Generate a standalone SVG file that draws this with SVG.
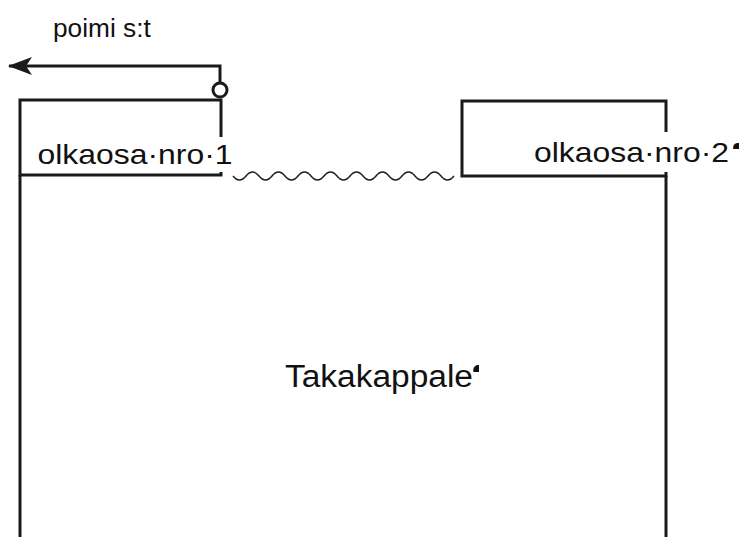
<svg xmlns="http://www.w3.org/2000/svg" width="741" height="537" viewBox="0 0 741 537">
<style>
.ln{fill:none;stroke:#1a1a1a;stroke-width:3}
.wv{fill:none;stroke:#1a1a1a;stroke-width:1.5}
.t{font-family:"Liberation Sans",Arial,sans-serif;fill:#111}
.bg{fill:#fff}
</style>
<defs>
<marker id="ah" viewBox="0 0 24 18" refX="23" refY="9" markerWidth="24" markerHeight="18" markerUnits="userSpaceOnUse" orient="auto">
<path d="M0,0 L24,9 L0,18 L6,9 Z" fill="#1a1a1a"/>
</marker>
<clipPath id="c1"><rect x="733" y="138" width="6" height="11"/></clipPath>
<clipPath id="c2"><rect x="473" y="360" width="6" height="12"/></clipPath>
</defs>
<g id="back-piece">
<path class="ln" d="M20,175 V537 M666,176 V537"/>
<text class="t" x="285" y="387" font-size="31" textLength="188" lengthAdjust="spacingAndGlyphs">Takakappale</text>
<text class="t" x="472" y="387" font-size="31" clip-path="url(#c2)">¶</text>
</g>
<g id="shoulder-1">
<path class="ln" d="M221,175 H20 V100 H221 Z"/>
<rect class="bg" x="36" y="137" width="188" height="35"/>
<text class="t" font-size="28.5" transform="translate(37.5,164) scale(1.12,1)" x="0" y="0">olkaosa·nro·1</text>
</g>
<g id="shoulder-2">
<path class="ln" d="M666,176 H462 V101 H666 Z"/>
<rect class="bg" x="530" y="132" width="211" height="40"/>
<text class="t" font-size="28.5" transform="translate(534,162) scale(1.12,1)" x="0" y="0">olkaosa·nro·2</text>
<text class="t" x="732" y="162" font-size="28" clip-path="url(#c1)">¶</text>
</g>
<g id="label">
<text class="t" font-size="25.5" transform="translate(53,37) scale(1.03,1)" x="0" y="0">poimi s:t</text>
</g>
<g id="connectors">
<path class="ln" d="M220,83 V66 H9" marker-end="url(#ah)"/>
<circle cx="220" cy="90" r="7" fill="#fff" stroke="#1a1a1a" stroke-width="3"/>
<path class="wv" d="M233,176 q6.5,8 13,0 t13,0 t13,0 t13,0 t13,0 t13,0 t13,0 t13,0 t13,0 t13,0 t13,0 t13,0 t13,0 t13,0 t13,0 t13,0 t13,0"/>
</g>
</svg>
